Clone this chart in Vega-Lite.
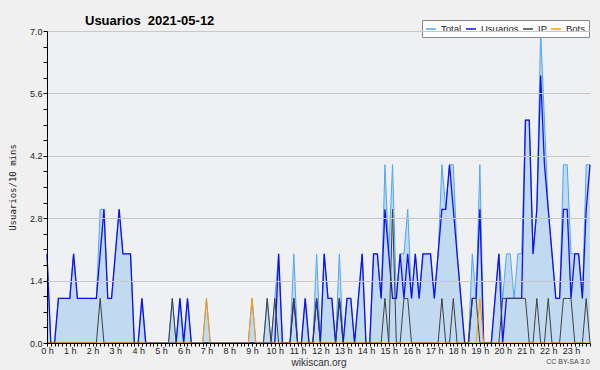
{
"$schema": "https://vega.github.io/schema/vega-lite/v6.json",
"width": 543, "height": 312,
"autosize": {"type": "none"},
"padding": {"left": 47, "top": 31, "right": 10, "bottom": 27},
"background": "#f0f0f0",
"config": {"view": {"fill": "#eff0f1", "stroke": null}, "font": "Liberation Sans"},
"title": {"text": "Usuarios\u00a0 2021-05-12", "anchor": "start", "frame": "group", "dx": 38, "offset": -8, "fontSize": 13, "font": "Liberation Sans", "fontWeight": "bold", "color": "#000000"},
"data": {"values": [
{"m":0,"total":2,"usuarios":2,"ip":0,"bots":0},
{"m":10,"total":0,"usuarios":0,"ip":0,"bots":0},
{"m":20,"total":0,"usuarios":0,"ip":0,"bots":0},
{"m":30,"total":1,"usuarios":1,"ip":0,"bots":0},
{"m":40,"total":1,"usuarios":1,"ip":0,"bots":0},
{"m":50,"total":1,"usuarios":1,"ip":0,"bots":0},
{"m":60,"total":1,"usuarios":1,"ip":0,"bots":0},
{"m":70,"total":2,"usuarios":2,"ip":0,"bots":0},
{"m":80,"total":1,"usuarios":1,"ip":0,"bots":0},
{"m":90,"total":1,"usuarios":1,"ip":0,"bots":0},
{"m":100,"total":1,"usuarios":1,"ip":0,"bots":0},
{"m":110,"total":1,"usuarios":1,"ip":0,"bots":0},
{"m":120,"total":1,"usuarios":1,"ip":0,"bots":0},
{"m":130,"total":1,"usuarios":1,"ip":0,"bots":0},
{"m":140,"total":3,"usuarios":2,"ip":1,"bots":0},
{"m":150,"total":3,"usuarios":3,"ip":0,"bots":0},
{"m":160,"total":1,"usuarios":1,"ip":0,"bots":0},
{"m":170,"total":1,"usuarios":1,"ip":0,"bots":0},
{"m":180,"total":2,"usuarios":2,"ip":0,"bots":0},
{"m":190,"total":3,"usuarios":3,"ip":0,"bots":0},
{"m":200,"total":2,"usuarios":2,"ip":0,"bots":0},
{"m":210,"total":2,"usuarios":2,"ip":0,"bots":0},
{"m":220,"total":2,"usuarios":2,"ip":0,"bots":0},
{"m":230,"total":0,"usuarios":0,"ip":0,"bots":0},
{"m":240,"total":0,"usuarios":0,"ip":0,"bots":0},
{"m":250,"total":1,"usuarios":1,"ip":0,"bots":0},
{"m":260,"total":0,"usuarios":0,"ip":0,"bots":0},
{"m":270,"total":0,"usuarios":0,"ip":0,"bots":0},
{"m":280,"total":0,"usuarios":0,"ip":0,"bots":0},
{"m":290,"total":0,"usuarios":0,"ip":0,"bots":0},
{"m":300,"total":0,"usuarios":0,"ip":0,"bots":0},
{"m":310,"total":0,"usuarios":0,"ip":0,"bots":0},
{"m":320,"total":0,"usuarios":0,"ip":0,"bots":0},
{"m":330,"total":1,"usuarios":0,"ip":1,"bots":0},
{"m":340,"total":0,"usuarios":0,"ip":0,"bots":0},
{"m":350,"total":1,"usuarios":1,"ip":0,"bots":0},
{"m":360,"total":0,"usuarios":0,"ip":0,"bots":0},
{"m":370,"total":1,"usuarios":1,"ip":0,"bots":0},
{"m":380,"total":0,"usuarios":0,"ip":0,"bots":0},
{"m":390,"total":0,"usuarios":0,"ip":0,"bots":0},
{"m":400,"total":0,"usuarios":0,"ip":0,"bots":0},
{"m":410,"total":0,"usuarios":0,"ip":0,"bots":0},
{"m":420,"total":1,"usuarios":0,"ip":0,"bots":1},
{"m":430,"total":0,"usuarios":0,"ip":0,"bots":0},
{"m":440,"total":0,"usuarios":0,"ip":0,"bots":0},
{"m":450,"total":0,"usuarios":0,"ip":0,"bots":0},
{"m":460,"total":0,"usuarios":0,"ip":0,"bots":0},
{"m":470,"total":0,"usuarios":0,"ip":0,"bots":0},
{"m":480,"total":0,"usuarios":0,"ip":0,"bots":0},
{"m":490,"total":0,"usuarios":0,"ip":0,"bots":0},
{"m":500,"total":0,"usuarios":0,"ip":0,"bots":0},
{"m":510,"total":0,"usuarios":0,"ip":0,"bots":0},
{"m":520,"total":0,"usuarios":0,"ip":0,"bots":0},
{"m":530,"total":0,"usuarios":0,"ip":0,"bots":0},
{"m":540,"total":1,"usuarios":0,"ip":0,"bots":1},
{"m":550,"total":0,"usuarios":0,"ip":0,"bots":0},
{"m":560,"total":0,"usuarios":0,"ip":0,"bots":0},
{"m":570,"total":0,"usuarios":0,"ip":0,"bots":0},
{"m":580,"total":1,"usuarios":0,"ip":1,"bots":0},
{"m":590,"total":0,"usuarios":0,"ip":0,"bots":0},
{"m":600,"total":1,"usuarios":0,"ip":1,"bots":0},
{"m":610,"total":2,"usuarios":2,"ip":0,"bots":0},
{"m":620,"total":0,"usuarios":0,"ip":0,"bots":0},
{"m":630,"total":0,"usuarios":0,"ip":0,"bots":0},
{"m":640,"total":0,"usuarios":0,"ip":0,"bots":0},
{"m":650,"total":2,"usuarios":1,"ip":1,"bots":0},
{"m":660,"total":0,"usuarios":0,"ip":0,"bots":0},
{"m":670,"total":0,"usuarios":0,"ip":0,"bots":0},
{"m":680,"total":1,"usuarios":1,"ip":0,"bots":0},
{"m":690,"total":0,"usuarios":0,"ip":0,"bots":0},
{"m":700,"total":0,"usuarios":0,"ip":0,"bots":0},
{"m":710,"total":2,"usuarios":1,"ip":1,"bots":0},
{"m":720,"total":0,"usuarios":0,"ip":0,"bots":0},
{"m":730,"total":2,"usuarios":2,"ip":0,"bots":0},
{"m":740,"total":1,"usuarios":1,"ip":0,"bots":0},
{"m":750,"total":1,"usuarios":1,"ip":0,"bots":0},
{"m":760,"total":0,"usuarios":0,"ip":0,"bots":0},
{"m":770,"total":2,"usuarios":1,"ip":1,"bots":0},
{"m":780,"total":0,"usuarios":0,"ip":0,"bots":0},
{"m":790,"total":1,"usuarios":1,"ip":0,"bots":0},
{"m":800,"total":1,"usuarios":1,"ip":0,"bots":0},
{"m":810,"total":0,"usuarios":0,"ip":0,"bots":0},
{"m":820,"total":1,"usuarios":1,"ip":0,"bots":0},
{"m":830,"total":2,"usuarios":2,"ip":0,"bots":0},
{"m":840,"total":0,"usuarios":0,"ip":0,"bots":0},
{"m":850,"total":0,"usuarios":0,"ip":0,"bots":0},
{"m":860,"total":2,"usuarios":2,"ip":0,"bots":0},
{"m":870,"total":2,"usuarios":2,"ip":0,"bots":0},
{"m":880,"total":1,"usuarios":1,"ip":0,"bots":0},
{"m":890,"total":4,"usuarios":3,"ip":1,"bots":0},
{"m":900,"total":2,"usuarios":2,"ip":0,"bots":0},
{"m":910,"total":4,"usuarios":1,"ip":3,"bots":0},
{"m":920,"total":1,"usuarios":1,"ip":0,"bots":0},
{"m":930,"total":2,"usuarios":2,"ip":0,"bots":0},
{"m":940,"total":2,"usuarios":1,"ip":1,"bots":0},
{"m":950,"total":3,"usuarios":2,"ip":1,"bots":0},
{"m":960,"total":1,"usuarios":1,"ip":0,"bots":0},
{"m":970,"total":2,"usuarios":2,"ip":0,"bots":0},
{"m":980,"total":1,"usuarios":1,"ip":0,"bots":0},
{"m":990,"total":2,"usuarios":2,"ip":0,"bots":0},
{"m":1000,"total":2,"usuarios":2,"ip":0,"bots":0},
{"m":1010,"total":2,"usuarios":2,"ip":0,"bots":0},
{"m":1020,"total":1,"usuarios":1,"ip":0,"bots":0},
{"m":1030,"total":2,"usuarios":2,"ip":0,"bots":0},
{"m":1040,"total":4,"usuarios":3,"ip":1,"bots":0},
{"m":1050,"total":3,"usuarios":3,"ip":0,"bots":0},
{"m":1060,"total":4,"usuarios":4,"ip":0,"bots":0},
{"m":1070,"total":4,"usuarios":3,"ip":1,"bots":0},
{"m":1080,"total":2,"usuarios":2,"ip":0,"bots":0},
{"m":1090,"total":1,"usuarios":1,"ip":0,"bots":0},
{"m":1100,"total":0,"usuarios":0,"ip":0,"bots":0},
{"m":1110,"total":0,"usuarios":0,"ip":0,"bots":0},
{"m":1120,"total":2,"usuarios":1,"ip":1,"bots":0},
{"m":1130,"total":1,"usuarios":1,"ip":1,"bots":0},
{"m":1140,"total":4,"usuarios":3,"ip":0,"bots":1},
{"m":1150,"total":0,"usuarios":0,"ip":0,"bots":0},
{"m":1160,"total":0,"usuarios":0,"ip":0,"bots":0},
{"m":1170,"total":0,"usuarios":0,"ip":0,"bots":0},
{"m":1180,"total":1,"usuarios":1,"ip":0,"bots":0},
{"m":1190,"total":2,"usuarios":2,"ip":0,"bots":0},
{"m":1200,"total":1,"usuarios":0,"ip":1,"bots":0},
{"m":1210,"total":2,"usuarios":1,"ip":1,"bots":0},
{"m":1220,"total":2,"usuarios":1,"ip":1,"bots":0},
{"m":1230,"total":1,"usuarios":1,"ip":1,"bots":0},
{"m":1240,"total":2,"usuarios":1,"ip":1,"bots":0},
{"m":1250,"total":2,"usuarios":1,"ip":1,"bots":0},
{"m":1260,"total":5,"usuarios":5,"ip":1,"bots":0},
{"m":1270,"total":5,"usuarios":5,"ip":0,"bots":0},
{"m":1280,"total":2,"usuarios":2,"ip":0,"bots":0},
{"m":1290,"total":3,"usuarios":3,"ip":1,"bots":0},
{"m":1300,"total":7,"usuarios":6,"ip":0,"bots":0},
{"m":1310,"total":5,"usuarios":4,"ip":0,"bots":0},
{"m":1320,"total":3,"usuarios":3,"ip":1,"bots":0},
{"m":1330,"total":2,"usuarios":2,"ip":0,"bots":0},
{"m":1340,"total":1,"usuarios":1,"ip":0,"bots":0},
{"m":1350,"total":1,"usuarios":1,"ip":0,"bots":0},
{"m":1360,"total":4,"usuarios":3,"ip":1,"bots":0},
{"m":1370,"total":4,"usuarios":3,"ip":1,"bots":0},
{"m":1380,"total":2,"usuarios":1,"ip":1,"bots":0},
{"m":1390,"total":2,"usuarios":2,"ip":0,"bots":0},
{"m":1400,"total":2,"usuarios":2,"ip":0,"bots":0},
{"m":1410,"total":1,"usuarios":1,"ip":0,"bots":0},
{"m":1420,"total":4,"usuarios":3,"ip":1,"bots":0},
{"m":1430,"total":4,"usuarios":4,"ip":0,"bots":0}
]},
"encoding": {
  "x": {"field": "m", "type": "quantitative",
    "scale": {"domain": [0, 1430], "nice": false, "zero": false},
    "axis": {
      "values": [0,10,20,30,40,50,60,70,80,90,100,110,120,130,140,150,160,170,180,190,200,210,220,230,240,250,260,270,280,290,300,310,320,330,340,350,360,370,380,390,400,410,420,430,440,450,460,470,480,490,500,510,520,530,540,550,560,570,580,590,600,610,620,630,640,650,660,670,680,690,700,710,720,730,740,750,760,770,780,790,800,810,820,830,840,850,860,870,880,890,900,910,920,930,940,950,960,970,980,990,1000,1010,1020,1030,1040,1050,1060,1070,1080,1090,1100,1110,1120,1130,1140,1150,1160,1170,1180,1190,1200,1210,1220,1230,1240,1250,1260,1270,1280,1290,1300,1310,1320,1330,1340,1350,1360,1370,1380,1390,1400,1410,1420,1430],
      "labelExpr": "datum.value % 60 == 0 ? (datum.value / 60) + ' h' : ''",
      "labelOverlap": false, "labelFlush": false,
      "labelFont": "Liberation Sans", "labelFontSize": 9, "labelColor": "#222222", "labelPadding": 0,
      "tickSize": 3, "tickColor": "#000000", "domainColor": "#000000", "grid": false, "zindex": 1,
      "title": "wikiscan.org", "titleFont": "Liberation Sans", "titleFontSize": 10, "titleFontWeight": "normal", "titleColor": "#333333", "titlePadding": 2
    }
  },
  "y": {"field": "total", "type": "quantitative",
     "scale": {"domain": [0, 7], "nice": false, "zero": true},
     "title": "Usuarios/10 mins",
     "axis": {
       "values": [0,0.35,0.7,1.05,1.4,1.75,2.1,2.45,2.8,3.15,3.5,3.85,4.2,4.55,4.9,5.25,5.6,5.95,6.3,6.65,7],
       "labelExpr": "abs(datum.value/1.4 - round(datum.value/1.4)) < 0.001 ? format(datum.value, '.1f') : ''",
       "labelOverlap": false, "labelFlush": false, "labelFont": "Liberation Sans", "labelFontSize": 9, "labelColor": "#222222", "labelPadding": 1,
       "tickSize": 4, "tickColor": "#000000", "domainColor": "#000000", "zindex": 1,
       "grid": true, "gridColor": "#c8c8c8",
       "gridOpacity": {"condition": {"test": "abs(datum.value/1.4 - round(datum.value/1.4)) < 0.001", "value": 1}, "value": 0},
       "titleFont": "DejaVu Sans Mono", "titleFontSize": 9, "titleFontWeight": "normal", "titleColor": "#222222", "titlePadding": 12
     }}
},
"layer": [
  {"mark": {"type": "area", "interpolate": "linear", "color": "#9bc8ef", "opacity": 0.55}},
  {"mark": {"type": "line", "interpolate": "linear", "strokeWidth": 1},
   "encoding": {
     "color": {"datum": "Total", "type": "nominal",
       "scale": {"domain": ["Total", "Usuarios", "IP", "Bots"], "range": ["#4ea6f5", "#1010f0", "#404040", "#ff9900"]},
       "legend": {"orient": "none", "legendX": 375, "legendY": -11, "direction": "horizontal", "title": null,
         "gridAlign": "none", "columns": 4,
         "symbolType": "stroke", "symbolSize": 100, "symbolStrokeWidth": 1.5,
         "labelFont": "Liberation Sans", "labelFontSize": 9.5, "labelColor": "#222222", "labelOffset": 4,
         "columnPadding": 1, "padding": 3, "fillColor": "#ffffff", "strokeColor": "#888888"}}}},
  {"mark": {"type": "line", "interpolate": "linear", "strokeWidth": 1.3},
   "encoding": {"y": {"field": "usuarios", "type": "quantitative", "title": "Usuarios/10 mins"},
     "color": {"datum": "Usuarios", "type": "nominal"}}},
  {"mark": {"type": "line", "interpolate": "linear", "strokeWidth": 1},
   "encoding": {"y": {"field": "ip", "type": "quantitative", "title": "Usuarios/10 mins"},
     "color": {"datum": "IP", "type": "nominal"}}},
  {"mark": {"type": "line", "interpolate": "linear", "strokeWidth": 1},
   "encoding": {"y": {"field": "bots", "type": "quantitative", "title": "Usuarios/10 mins"},
     "color": {"datum": "Bots", "type": "nominal"}}},
  {"data": {"values": [{"note": "CC BY-SA 3.0", "m": 1430, "total": 0}]},
   "mark": {"type": "text", "align": "right", "baseline": "middle", "dy": 19, "fontSize": 7, "font": "Liberation Sans", "color": "#444444"},
   "encoding": {"text": {"field": "note", "type": "nominal"}}}
]
}
